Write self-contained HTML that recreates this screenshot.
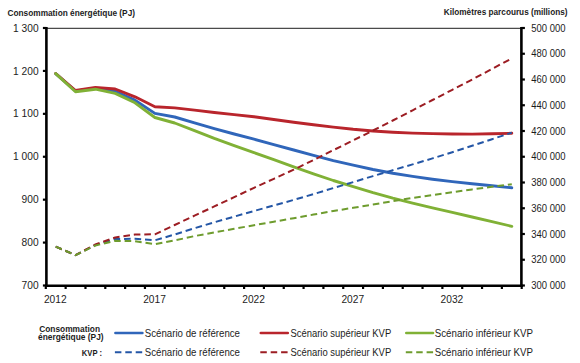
<!DOCTYPE html><html><head><meta charset="utf-8"><style>html,body{margin:0;padding:0;background:#fff;}svg{display:block;}text{font-family:"Liberation Sans",sans-serif;fill:#1c1c1c;}</style></head><body>
<svg width="580" height="363" viewBox="0 0 580 363">
<rect width="580" height="363" fill="#fff"/>
<text x="7.5" y="15.6" font-size="9.0" font-weight="bold" textLength="127.5" lengthAdjust="spacingAndGlyphs">Consommation énergétique (PJ)</text>
<text x="443.8" y="15.4" font-size="9.0" font-weight="bold" textLength="123.7" lengthAdjust="spacingAndGlyphs">Kilomètres parcourus (millions)</text>
<line x1="45.8" y1="28.4" x2="521.7" y2="28.4" stroke="#4a4a4a" stroke-width="1.3"/>
<polyline points="55.7,73.6 75.5,91.0 95.4,88.4 115.2,91.4 135.0,100.2 154.9,113.4 174.7,117.0 194.5,122.9 214.3,128.6 234.2,134.0 254.0,139.2 273.8,144.6 293.7,150.0 313.5,155.3 333.3,160.6 353.2,165.2 373.0,169.5 392.8,173.2 412.6,176.4 432.5,179.2 452.3,181.6 472.1,183.7 492.0,185.8 511.8,187.8" fill="none" stroke="#3066ba" stroke-width="2.9" stroke-linejoin="round" stroke-linecap="round"/>
<polyline points="55.7,73.5 75.5,90.5 95.4,87.4 115.2,89.0 135.0,96.8 154.9,106.7 174.7,107.9 194.5,110.1 214.3,112.5 234.2,114.6 254.0,116.8 273.8,119.5 293.7,122.2 313.5,124.8 333.3,127.1 353.2,129.3 373.0,131.0 392.8,132.2 412.6,133.1 432.5,133.6 452.3,134.0 472.1,134.1 492.0,133.8 511.8,133.3" fill="none" stroke="#b9252c" stroke-width="2.9" stroke-linejoin="round" stroke-linecap="round"/>
<polyline points="55.7,73.6 75.5,91.7 95.4,89.2 115.2,93.4 135.0,102.8 154.9,117.5 174.7,123.0 194.5,130.6 214.3,138.4 234.2,145.6 254.0,152.6 273.8,159.6 293.7,166.8 313.5,173.8 333.3,180.5 353.2,186.6 373.0,192.6 392.8,198.1 412.6,203.1 432.5,207.8 452.3,212.3 472.1,217.0 492.0,221.7 511.8,226.3" fill="none" stroke="#80b136" stroke-width="2.9" stroke-linejoin="round" stroke-linecap="round"/>
<polyline points="55.7,246.6 75.5,255.2 95.4,245.0 115.2,239.0 135.0,238.8 154.9,240.3 174.7,234.5 194.5,228.2 214.3,222.3 234.2,216.6 254.0,211.0 273.8,205.5 293.7,199.9 313.5,194.1 333.3,188.1 353.2,182.1 373.0,176.1 392.8,170.2 412.6,164.4 432.5,158.4 452.3,152.2 472.1,145.8 492.0,139.2 511.8,132.6" fill="none" stroke="#2456a6" stroke-width="2.0" stroke-linejoin="round" stroke-linecap="butt" stroke-dasharray="6.6 3.9"/>
<polyline points="55.7,246.6 75.5,255.2 95.4,244.5 115.2,237.5 135.0,234.5 154.9,234.3 174.7,225.0 194.5,215.7 214.3,206.4 234.2,197.2 254.0,187.8 273.8,178.8 293.7,169.7 313.5,160.0 333.3,150.2 353.2,140.4 373.0,130.5 392.8,120.5 412.6,110.3 432.5,100.0 452.3,89.8 472.1,79.6 492.0,68.9 511.8,58.4" fill="none" stroke="#9c1d23" stroke-width="2.0" stroke-linejoin="round" stroke-linecap="butt" stroke-dasharray="6.6 3.9"/>
<polyline points="55.7,246.6 75.5,255.2 95.4,245.5 115.2,240.8 135.0,241.2 154.9,244.2 174.7,240.4 194.5,236.1 214.3,232.4 234.2,228.8 254.0,225.2 273.8,221.7 293.7,218.2 313.5,214.6 333.3,211.0 353.2,207.8 373.0,204.6 392.8,201.1 412.6,197.9 432.5,195.0 452.3,192.2 472.1,189.4 492.0,186.8 511.8,184.2" fill="none" stroke="#6e9c2e" stroke-width="2.0" stroke-linejoin="round" stroke-linecap="butt" stroke-dasharray="6.6 3.9"/>
<line x1="46.4" y1="27.0" x2="46.4" y2="287.1" stroke="#000" stroke-width="2.6"/>
<line x1="521.4" y1="27.0" x2="521.4" y2="287.1" stroke="#000" stroke-width="2.6"/>
<line x1="45.1" y1="285.8" x2="522.6999999999999" y2="285.8" stroke="#000" stroke-width="2.6"/>
<line x1="42.9" y1="28.00" x2="46.4" y2="28.00" stroke="#000" stroke-width="2.2"/>
<text x="38.6" y="31.60" font-size="10.2" text-anchor="end">1 300</text>
<line x1="42.9" y1="70.92" x2="46.4" y2="70.92" stroke="#000" stroke-width="2.2"/>
<text x="38.6" y="74.52" font-size="10.2" text-anchor="end">1 200</text>
<line x1="42.9" y1="113.83" x2="46.4" y2="113.83" stroke="#000" stroke-width="2.2"/>
<text x="38.6" y="117.43" font-size="10.2" text-anchor="end">1 100</text>
<line x1="42.9" y1="156.75" x2="46.4" y2="156.75" stroke="#000" stroke-width="2.2"/>
<text x="38.6" y="160.35" font-size="10.2" text-anchor="end">1 000</text>
<line x1="42.9" y1="199.67" x2="46.4" y2="199.67" stroke="#000" stroke-width="2.2"/>
<text x="38.6" y="203.27" font-size="10.2" text-anchor="end">900</text>
<line x1="42.9" y1="242.58" x2="46.4" y2="242.58" stroke="#000" stroke-width="2.2"/>
<text x="38.6" y="246.18" font-size="10.2" text-anchor="end">800</text>
<line x1="42.9" y1="285.50" x2="46.4" y2="285.50" stroke="#000" stroke-width="2.2"/>
<text x="38.6" y="289.10" font-size="10.2" text-anchor="end">700</text>
<line x1="521.4" y1="28.00" x2="524.9" y2="28.00" stroke="#000" stroke-width="2.2"/>
<text x="531.3" y="31.60" font-size="10.2" textLength="34.2" lengthAdjust="spacingAndGlyphs">500 000</text>
<line x1="521.4" y1="53.75" x2="524.9" y2="53.75" stroke="#000" stroke-width="2.2"/>
<text x="531.3" y="57.35" font-size="10.2" textLength="34.2" lengthAdjust="spacingAndGlyphs">480 000</text>
<line x1="521.4" y1="79.50" x2="524.9" y2="79.50" stroke="#000" stroke-width="2.2"/>
<text x="531.3" y="83.10" font-size="10.2" textLength="34.2" lengthAdjust="spacingAndGlyphs">460 000</text>
<line x1="521.4" y1="105.25" x2="524.9" y2="105.25" stroke="#000" stroke-width="2.2"/>
<text x="531.3" y="108.85" font-size="10.2" textLength="34.2" lengthAdjust="spacingAndGlyphs">440 000</text>
<line x1="521.4" y1="131.00" x2="524.9" y2="131.00" stroke="#000" stroke-width="2.2"/>
<text x="531.3" y="134.60" font-size="10.2" textLength="34.2" lengthAdjust="spacingAndGlyphs">420 000</text>
<line x1="521.4" y1="156.75" x2="524.9" y2="156.75" stroke="#000" stroke-width="2.2"/>
<text x="531.3" y="160.35" font-size="10.2" textLength="34.2" lengthAdjust="spacingAndGlyphs">400 000</text>
<line x1="521.4" y1="182.50" x2="524.9" y2="182.50" stroke="#000" stroke-width="2.2"/>
<text x="531.3" y="186.10" font-size="10.2" textLength="34.2" lengthAdjust="spacingAndGlyphs">380 000</text>
<line x1="521.4" y1="208.25" x2="524.9" y2="208.25" stroke="#000" stroke-width="2.2"/>
<text x="531.3" y="211.85" font-size="10.2" textLength="34.2" lengthAdjust="spacingAndGlyphs">360 000</text>
<line x1="521.4" y1="234.00" x2="524.9" y2="234.00" stroke="#000" stroke-width="2.2"/>
<text x="531.3" y="237.60" font-size="10.2" textLength="34.2" lengthAdjust="spacingAndGlyphs">340 000</text>
<line x1="521.4" y1="259.75" x2="524.9" y2="259.75" stroke="#000" stroke-width="2.2"/>
<text x="531.3" y="263.35" font-size="10.2" textLength="34.2" lengthAdjust="spacingAndGlyphs">320 000</text>
<line x1="521.4" y1="285.50" x2="524.9" y2="285.50" stroke="#000" stroke-width="2.2"/>
<text x="531.3" y="289.10" font-size="10.2" textLength="34.2" lengthAdjust="spacingAndGlyphs">300 000</text>
<line x1="45.80" y1="285.8" x2="45.80" y2="289.0" stroke="#000" stroke-width="2.2"/>
<line x1="65.63" y1="285.8" x2="65.63" y2="289.0" stroke="#000" stroke-width="2.2"/>
<line x1="85.46" y1="285.8" x2="85.46" y2="289.0" stroke="#000" stroke-width="2.2"/>
<line x1="105.29" y1="285.8" x2="105.29" y2="289.0" stroke="#000" stroke-width="2.2"/>
<line x1="125.12" y1="285.8" x2="125.12" y2="289.0" stroke="#000" stroke-width="2.2"/>
<line x1="144.95" y1="285.8" x2="144.95" y2="289.0" stroke="#000" stroke-width="2.2"/>
<line x1="164.78" y1="285.8" x2="164.78" y2="289.0" stroke="#000" stroke-width="2.2"/>
<line x1="184.60" y1="285.8" x2="184.60" y2="289.0" stroke="#000" stroke-width="2.2"/>
<line x1="204.43" y1="285.8" x2="204.43" y2="289.0" stroke="#000" stroke-width="2.2"/>
<line x1="224.26" y1="285.8" x2="224.26" y2="289.0" stroke="#000" stroke-width="2.2"/>
<line x1="244.09" y1="285.8" x2="244.09" y2="289.0" stroke="#000" stroke-width="2.2"/>
<line x1="263.92" y1="285.8" x2="263.92" y2="289.0" stroke="#000" stroke-width="2.2"/>
<line x1="283.75" y1="285.8" x2="283.75" y2="289.0" stroke="#000" stroke-width="2.2"/>
<line x1="303.58" y1="285.8" x2="303.58" y2="289.0" stroke="#000" stroke-width="2.2"/>
<line x1="323.41" y1="285.8" x2="323.41" y2="289.0" stroke="#000" stroke-width="2.2"/>
<line x1="343.24" y1="285.8" x2="343.24" y2="289.0" stroke="#000" stroke-width="2.2"/>
<line x1="363.07" y1="285.8" x2="363.07" y2="289.0" stroke="#000" stroke-width="2.2"/>
<line x1="382.90" y1="285.8" x2="382.90" y2="289.0" stroke="#000" stroke-width="2.2"/>
<line x1="402.73" y1="285.8" x2="402.73" y2="289.0" stroke="#000" stroke-width="2.2"/>
<line x1="422.55" y1="285.8" x2="422.55" y2="289.0" stroke="#000" stroke-width="2.2"/>
<line x1="442.38" y1="285.8" x2="442.38" y2="289.0" stroke="#000" stroke-width="2.2"/>
<line x1="462.21" y1="285.8" x2="462.21" y2="289.0" stroke="#000" stroke-width="2.2"/>
<line x1="482.04" y1="285.8" x2="482.04" y2="289.0" stroke="#000" stroke-width="2.2"/>
<line x1="501.87" y1="285.8" x2="501.87" y2="289.0" stroke="#000" stroke-width="2.2"/>
<line x1="521.70" y1="285.8" x2="521.70" y2="289.0" stroke="#000" stroke-width="2.2"/>
<text x="55.3" y="302.9" font-size="10.2" text-anchor="middle">2012</text>
<text x="154.5" y="302.9" font-size="10.2" text-anchor="middle">2017</text>
<text x="253.6" y="302.9" font-size="10.2" text-anchor="middle">2022</text>
<text x="352.8" y="302.9" font-size="10.2" text-anchor="middle">2027</text>
<text x="451.9" y="302.9" font-size="10.2" text-anchor="middle">2032</text>
<text x="69.6" y="331.6" font-size="8.7" font-weight="bold" text-anchor="middle" textLength="60.8" lengthAdjust="spacingAndGlyphs">Consommation</text>
<text x="70.8" y="339.6" font-size="8.7" font-weight="bold" text-anchor="middle" textLength="65.6" lengthAdjust="spacingAndGlyphs">énergétique (PJ)</text>
<text x="102.0" y="355.8" font-size="8.7" font-weight="bold" text-anchor="end" textLength="20.2" lengthAdjust="spacingAndGlyphs">KVP :</text>
<line x1="115.4" y1="333.0" x2="142.4" y2="333.0" stroke="#3066ba" stroke-width="2.6" stroke-linecap="round"/>
<line x1="114.9" y1="352.2" x2="143.0" y2="352.2" stroke="#2456a6" stroke-width="2" stroke-dasharray="6.5 3.9"/>
<text x="144.8" y="336.6" font-size="10.5" textLength="95.2" lengthAdjust="spacingAndGlyphs">Scénario de référence</text>
<text x="144.8" y="355.5" font-size="10.5" textLength="95.2" lengthAdjust="spacingAndGlyphs">Scénario de référence</text>
<line x1="260.8" y1="333.0" x2="287.8" y2="333.0" stroke="#b9252c" stroke-width="2.6" stroke-linecap="round"/>
<line x1="260.3" y1="352.2" x2="288.4" y2="352.2" stroke="#9c1d23" stroke-width="2" stroke-dasharray="6.5 3.9"/>
<text x="290.4" y="336.6" font-size="10.5" textLength="100.8" lengthAdjust="spacingAndGlyphs">Scénario supérieur KVP</text>
<text x="290.4" y="355.5" font-size="10.5" textLength="100.8" lengthAdjust="spacingAndGlyphs">Scénario supérieur KVP</text>
<line x1="406.3" y1="333.0" x2="433" y2="333.0" stroke="#80b136" stroke-width="2.6" stroke-linecap="round"/>
<line x1="405.8" y1="352.2" x2="433.6" y2="352.2" stroke="#6e9c2e" stroke-width="2" stroke-dasharray="6.5 3.9"/>
<text x="434.8" y="336.6" font-size="10.5" textLength="98.2" lengthAdjust="spacingAndGlyphs">Scénario inférieur KVP</text>
<text x="434.8" y="355.5" font-size="10.5" textLength="98.2" lengthAdjust="spacingAndGlyphs">Scénario inférieur KVP</text>
</svg></body></html>
